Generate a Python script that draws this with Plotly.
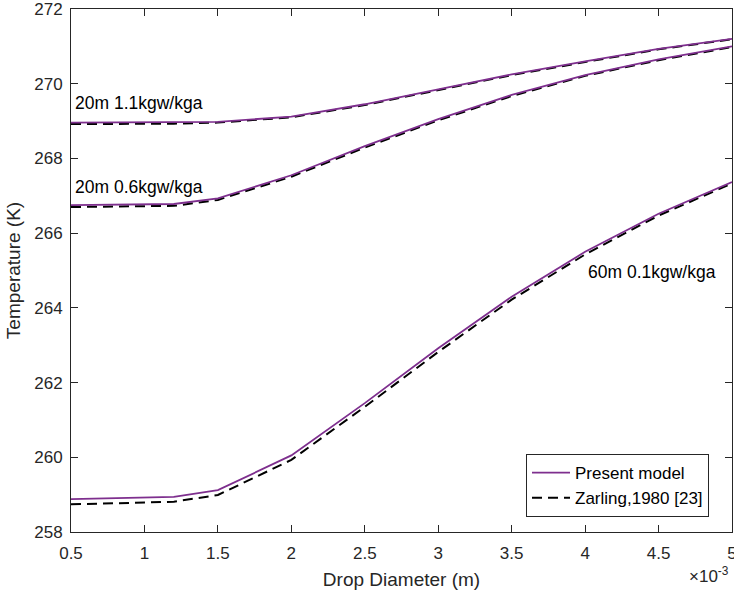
import plotly.graph_objects as go

# Drop diameter (x 10^-3 m)
diameter = [0.5, 1.2, 1.5, 2.0, 2.5, 3.0, 3.5, 4.0, 4.5, 5.0]

# Present model
model_20m_11 = [268.96, 268.96, 268.98, 269.12, 269.45, 269.85, 270.25, 270.60, 270.93, 271.20]
model_20m_06 = [266.75, 266.78, 266.93, 267.55, 268.33, 269.05, 269.70, 270.23, 270.65, 271.00]
model_60m_01 = [258.88, 258.94, 259.12, 260.05, 261.45, 262.92, 264.30, 265.50, 266.52, 267.37]

# Zarling, 1980 [23]
zarling_20m_11 = [268.92, 268.93, 268.96, 269.10, 269.43, 269.83, 270.23, 270.58, 270.92, 271.19]
zarling_20m_06 = [266.70, 266.73, 266.89, 267.51, 268.29, 269.02, 269.67, 270.21, 270.63, 270.98]
zarling_60m_01 = [258.74, 258.81, 258.99, 259.93, 261.35, 262.82, 264.22, 265.43, 266.47, 267.33]

x_tickvals = [0.5, 1, 1.5, 2, 2.5, 3, 3.5, 4, 4.5, 5]
x_ticktext = ["0.5", "1", "1.5", "2", "2.5", "3", "3.5", "4", "4.5", "5"]
y_tickvals = [258, 260, 262, 264, 266, 268, 270, 272]

curve_labels = ["20m 1.1kgw/kga", "20m 0.6kgw/kga", "60m 0.1kgw/kga"]

PURPLE = "#7E2F8E"
AXC = "#262626"
FONT = "Liberation Sans, Arial, Helvetica, sans-serif"

fig = go.Figure()

for i, ys in enumerate([zarling_20m_11, zarling_20m_06, zarling_60m_01]):
    fig.add_trace(go.Scatter(
        x=diameter, y=ys, mode="lines",
        line=dict(color="black", width=2, dash="10px,6px"),
        name="Zarling,1980 [23]", showlegend=(i == 0), legendrank=2,
    ))
for i, ys in enumerate([model_20m_11, model_20m_06, model_60m_01]):
    fig.add_trace(go.Scatter(
        x=diameter, y=ys, mode="lines",
        line=dict(color=PURPLE, width=1.8),
        name="Present model", showlegend=(i == 0), legendrank=1,
    ))

# curve labels
fig.add_annotation(x=0.515, y=269.48, text=curve_labels[0], showarrow=False,
                   xanchor="left", yanchor="middle", font=dict(size=17.5, color="black", family=FONT))
fig.add_annotation(x=0.515, y=267.24, text=curve_labels[1], showarrow=False,
                   xanchor="left", yanchor="middle", font=dict(size=17.5, color="black", family=FONT))
fig.add_annotation(x=4.006, y=264.95, text=curve_labels[2], showarrow=False,
                   xanchor="left", yanchor="middle", font=dict(size=17.5, color="black", family=FONT))

# exponent label
fig.add_annotation(xref="paper", yref="paper", x=(687 - 71) / 661, y=(532 - 575) / 523,
                   text="×10<sup>-3</sup>", showarrow=False, xanchor="left", yanchor="middle",
                   font=dict(size=17, color=AXC, family=FONT))

axis_common = dict(
    showline=True, linecolor=AXC, linewidth=1, mirror="ticks",
    ticks="inside", ticklen=7, tickcolor=AXC, tickwidth=1,
    showgrid=False, zeroline=False, ticklabeloverflow="allow", automargin=False,
    tickfont=dict(size=17, color=AXC, family=FONT),
)

fig.update_layout(
    width=734, height=592,
    margin=dict(l=71, r=2, t=9, b=60, autoexpand=False),
    paper_bgcolor="white", plot_bgcolor="white",
    font=dict(family=FONT, color=AXC),
    xaxis=dict(range=[0.5, 5], tickvals=x_tickvals, ticktext=x_ticktext,
               title=dict(text="Drop Diameter (m)", font=dict(size=19, color=AXC, family=FONT), standoff=10),
               ticklabelstandoff=6,
               **axis_common),
    yaxis=dict(range=[258, 272], tickvals=y_tickvals,
               title=dict(text="Temperature (K)", font=dict(size=19, color=AXC, family=FONT), standoff=8),
               ticklabelstandoff=4,
               **axis_common),
    legend=dict(x=(709 - 71) / 661, y=(532 - 517) / 523, xanchor="right", yanchor="bottom",
                bgcolor="white", bordercolor=AXC, borderwidth=1,
                font=dict(size=17, color="black", family=FONT),
                tracegroupgap=0, itemwidth=38),
    showlegend=True,
)

fig.write_html("out.html")
